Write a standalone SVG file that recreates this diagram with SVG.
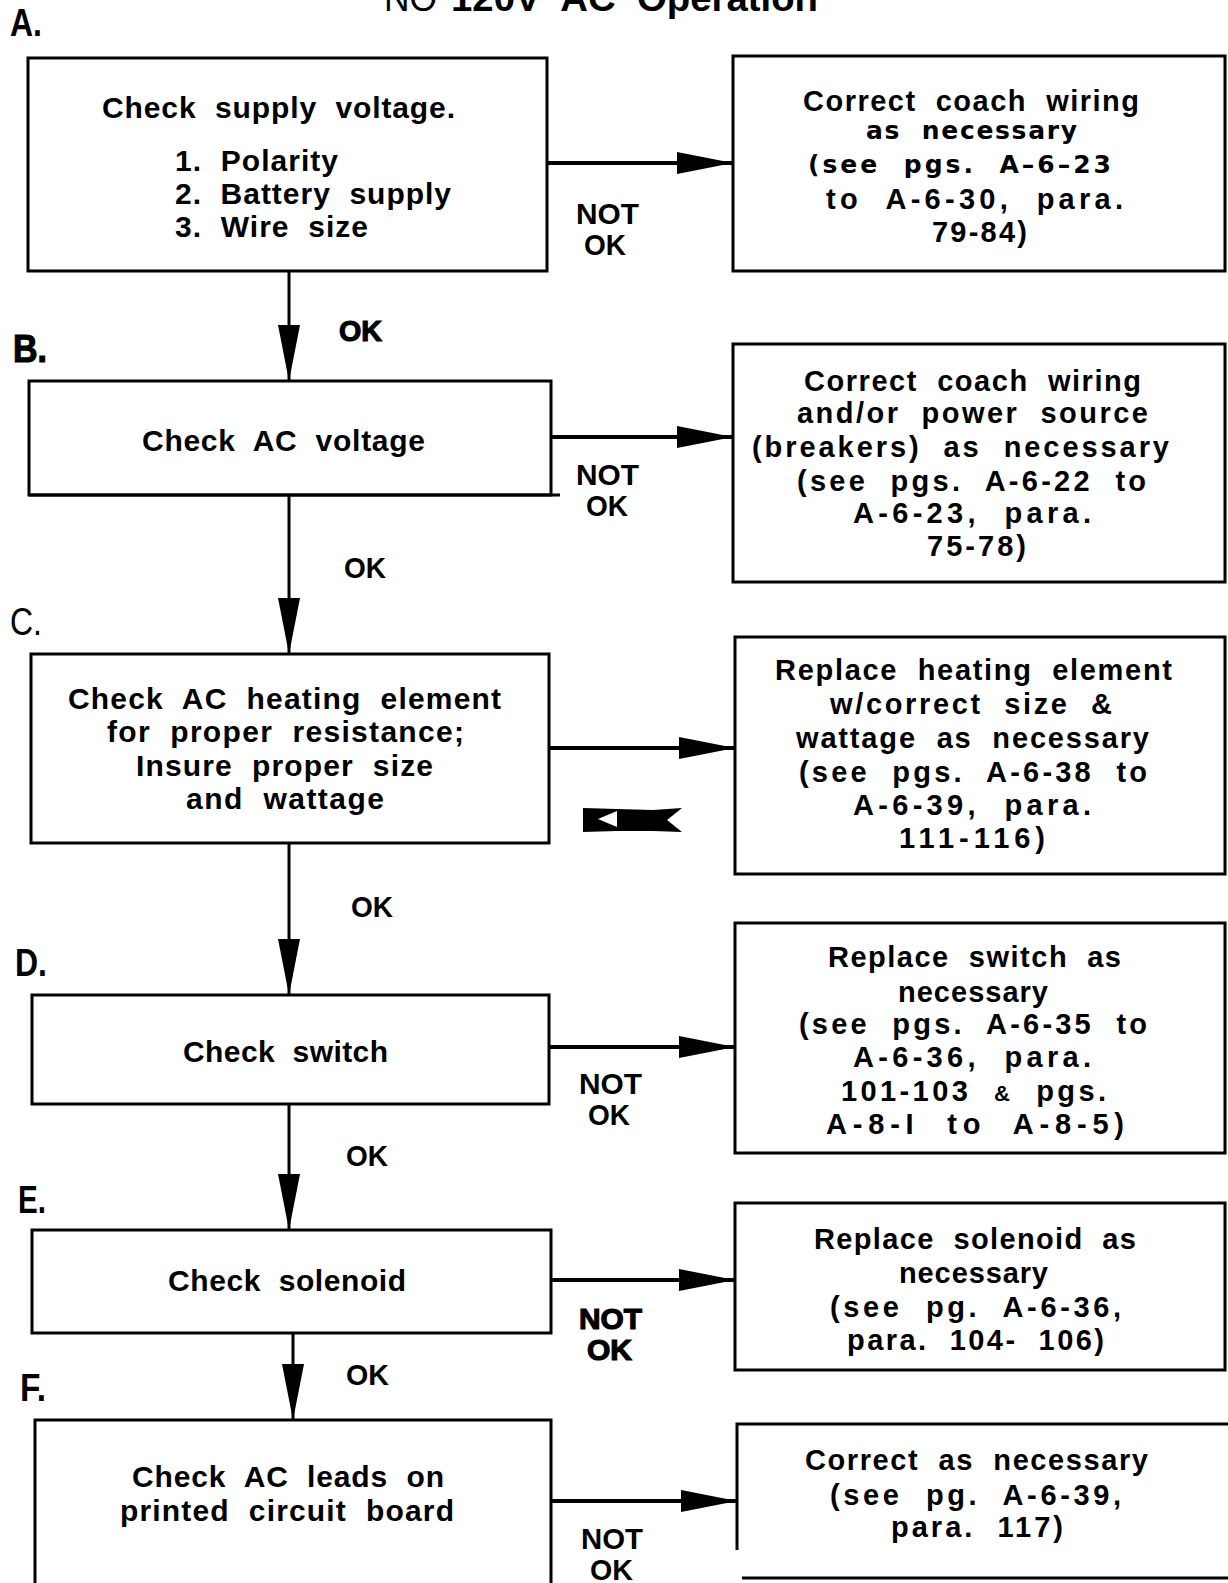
<svg xmlns="http://www.w3.org/2000/svg" width="1228" height="1583" viewBox="0 0 1228 1583" xml:space="preserve">
<style>
  .box{fill:#fff;stroke:#000;stroke-width:3}
  .edge{fill:none;stroke:#000;stroke-width:3}
  .hline{stroke:#000;stroke-width:4;fill:none}
  .vline{stroke:#000;stroke-width:3;fill:none}
  text{font-family:"Liberation Sans",Arial,sans-serif;font-weight:bold;fill:#000;white-space:pre}
  .t{font-size:30px}
  .r{font-size:29px}
  .g{font-family:"DejaVu Sans",sans-serif;font-weight:bold;font-size:25px}
  .lbl{font-size:30px}
  .sec{font-size:38px}
  .heavy{stroke:#000;stroke-width:1.2}
  .thin{font-weight:normal}
</style>
<defs>
  <marker id="ah" viewBox="0 0 56 22" refX="56" refY="11" markerWidth="56" markerHeight="22" markerUnits="userSpaceOnUse" orient="auto">
    <path d="M0,0 L56,11 L0,22 Z" fill="#000"/>
  </marker>
</defs>
<rect width="1228" height="1583" fill="#fff"/>

<g id="title">
  <text x="384" y="11" font-size="36" class="thin" textLength="53" lengthAdjust="spacingAndGlyphs">NO</text>
  <text x="451" y="11" font-size="36" textLength="367" lengthAdjust="spacingAndGlyphs">120V  AC  Operation</text>
</g>

<g id="section-labels">
  <text class="sec" x="10" y="36" textLength="32" lengthAdjust="spacingAndGlyphs">A.</text>
  <text class="sec heavy" x="13" y="362" textLength="34" lengthAdjust="spacingAndGlyphs">B.</text>
  <text class="sec thin" x="10" y="635" textLength="32" lengthAdjust="spacingAndGlyphs">C.</text>
  <text class="sec" x="15" y="976" textLength="32" lengthAdjust="spacingAndGlyphs">D.</text>
  <text class="sec" x="18" y="1213" textLength="28" lengthAdjust="spacingAndGlyphs">E.</text>
  <text class="sec" x="20" y="1401" textLength="26" lengthAdjust="spacingAndGlyphs">F.</text>
</g>

<g id="connectors">
  <line class="vline" x1="289" y1="271" x2="289" y2="381" marker-end="url(#ah)"/>
  <line class="vline" x1="289" y1="495" x2="289" y2="654" marker-end="url(#ah)"/>
  <line class="vline" x1="289" y1="843" x2="289" y2="995" marker-end="url(#ah)"/>
  <line class="vline" x1="289" y1="1104" x2="289" y2="1230" marker-end="url(#ah)"/>
  <line class="vline" x1="293" y1="1333" x2="293" y2="1420" marker-end="url(#ah)"/>
  <line class="hline" x1="547" y1="163" x2="733" y2="163" marker-end="url(#ah)"/>
  <line class="hline" x1="551" y1="437" x2="733" y2="437" marker-end="url(#ah)"/>
  <line class="hline" x1="549" y1="748" x2="735" y2="748" marker-end="url(#ah)"/>
  <line class="hline" x1="549" y1="1047" x2="735" y2="1047" marker-end="url(#ah)"/>
  <line class="hline" x1="551" y1="1280" x2="735" y2="1280" marker-end="url(#ah)"/>
  <line class="hline" x1="551" y1="1501" x2="737" y2="1501" marker-end="url(#ah)"/>
  <text class="lbl heavy" x="339" y="341" textLength="43" lengthAdjust="spacingAndGlyphs">OK</text>
  <text class="lbl" x="344" y="578" textLength="42" lengthAdjust="spacingAndGlyphs">OK</text>
  <text class="lbl" x="351" y="917" textLength="42" lengthAdjust="spacingAndGlyphs">OK</text>
  <text class="lbl" x="346" y="1166" textLength="42" lengthAdjust="spacingAndGlyphs">OK</text>
  <text class="lbl" x="346" y="1385" textLength="43" lengthAdjust="spacingAndGlyphs">OK</text>
  <text class="lbl" x="576" y="224" textLength="63" lengthAdjust="spacingAndGlyphs">NOT</text>
  <text class="lbl" x="584" y="255" textLength="42" lengthAdjust="spacingAndGlyphs">OK</text>
  <text class="lbl" x="576" y="485" textLength="63" lengthAdjust="spacingAndGlyphs">NOT</text>
  <text class="lbl" x="586" y="516" textLength="42" lengthAdjust="spacingAndGlyphs">OK</text>
  <polygon points="583,808 617,809 653,810 682,808 667,820 682,832 653,831 617,831 583,832" fill="#000"/>
  <polygon points="598,819 617,811 617,827" fill="#fff"/>
  <text class="lbl" x="579" y="1094" textLength="63" lengthAdjust="spacingAndGlyphs">NOT</text>
  <text class="lbl" x="588" y="1125" textLength="42" lengthAdjust="spacingAndGlyphs">OK</text>
  <text class="lbl heavy" x="579" y="1329" textLength="63" lengthAdjust="spacingAndGlyphs">NOT</text>
  <text class="lbl heavy" x="587" y="1360" textLength="45" lengthAdjust="spacingAndGlyphs">OK</text>
  <text class="lbl" x="581" y="1549" font-size="29" textLength="62" lengthAdjust="spacingAndGlyphs">NOT</text>
  <text class="lbl" x="590" y="1580" font-size="29" textLength="43" lengthAdjust="spacingAndGlyphs">OK</text>
</g>

<g id="nodeA">
  <rect class="box" x="28" y="58" width="519" height="213"/>
  <text class="t" x="102" y="118" textLength="353">Check  supply  voltage.</text>
  <text class="t" x="175" y="171" textLength="163">1.  Polarity</text>
  <text class="t" x="175" y="204" textLength="276">2.  Battery  supply</text>
  <text class="t" x="175" y="237" textLength="193">3.  Wire  size</text>
</g>
<g id="nodeA-fix">
  <rect class="box" x="733" y="56" width="492" height="215"/>
  <text class="r" x="803" y="111" textLength="336">Correct  coach  wiring</text>
  <text class="g" x="866" y="139" textLength="211">as  necessary</text>
  <text class="g" x="808" y="173" textLength="303">(see  pgs.  A–6–23</text>
  <text class="r" x="826" y="209" textLength="297">to  A-6-30,  para.</text>
  <text class="r" x="932" y="242" textLength="95">79-84)</text>
</g>

<g id="nodeB">
  <rect class="box" x="29" y="381" width="522" height="114"/>
  <line class="edge" x1="29" y1="495" x2="560" y2="495"/>
  <text class="t" x="142" y="451" textLength="283">Check  AC  voltage</text>
</g>
<g id="nodeB-fix">
  <rect class="box" x="733" y="344" width="492" height="238"/>
  <text class="r" x="804" y="391" textLength="337">Correct  coach  wiring</text>
  <text class="r" x="797" y="423" textLength="351">and/or  power  source</text>
  <text class="r" x="752" y="457" textLength="417">(breakers)  as  necessary</text>
  <text class="r" x="797" y="491" textLength="349">(see  pgs.  A-6-22  to</text>
  <text class="r" x="853" y="523" textLength="238">A-6-23,  para.</text>
  <text class="r" x="927" y="556" textLength="99">75-78)</text>
</g>

<g id="nodeC">
  <rect class="box" x="31" y="654" width="518" height="189"/>
  <text class="t" x="68" y="709" textLength="433">Check  AC  heating  element</text>
  <text class="t" x="107" y="742" textLength="357">for  proper  resistance;</text>
  <text class="t" x="136" y="776" textLength="297">Insure  proper  size</text>
  <text class="t" x="186" y="809" textLength="198">and  wattage</text>
</g>
<g id="nodeC-fix">
  <rect class="box" x="735" y="637" width="490" height="237"/>
  <text class="r" x="775" y="680" textLength="397">Replace  heating  element</text>
  <text class="r" x="830" y="714" textLength="282">w/correct  size  &amp;</text>
  <text class="r" x="796" y="748" textLength="353">wattage  as  necessary</text>
  <text class="r" x="799" y="782" textLength="348">(see  pgs.  A-6-38  to</text>
  <text class="r" x="853" y="815" textLength="238">A-6-39,  para.</text>
  <text class="r" x="899" y="848" textLength="146">111-116)</text>
</g>

<g id="nodeD">
  <rect class="box" x="32" y="995" width="517" height="109"/>
  <text class="t" x="183" y="1062" textLength="205">Check  switch</text>
</g>
<g id="nodeD-fix">
  <rect class="box" x="735" y="923" width="490" height="230"/>
  <text class="r" x="828" y="967" textLength="293">Replace  switch  as</text>
  <text class="r" x="898" y="1002" textLength="150">necessary</text>
  <text class="r" x="799" y="1034" textLength="348">(see  pgs.  A-6-35  to</text>
  <text class="r" x="853" y="1067" textLength="238">A-6-36,  para.</text>
  <text class="r" x="841" y="1101" textLength="265">101-103  <tspan font-size="22">&amp;</tspan>  pgs.</text>
  <text class="r" x="826" y="1134" textLength="298">A-8-I  to  A-8-5)</text>
</g>

<g id="nodeE">
  <rect class="box" x="32" y="1230" width="519" height="103"/>
  <text class="t" x="168" y="1291" textLength="238">Check  solenoid</text>
</g>
<g id="nodeE-fix">
  <rect class="box" x="735" y="1203" width="490" height="167"/>
  <text class="r" x="814" y="1249" textLength="322">Replace  solenoid  as</text>
  <text class="r" x="899" y="1283" textLength="149">necessary</text>
  <text class="r" x="830" y="1317" textLength="291">(see  pg.  A-6-36,</text>
  <text class="r" x="847" y="1350" textLength="257">para.  104-  106)</text>
</g>

<g id="nodeF">
  <path class="edge" d="M35,1583 V1420 H551 V1583"/>
  <text class="t" x="132" y="1487" textLength="312">Check  AC  leads  on</text>
  <text class="t" x="120" y="1521" textLength="334">printed  circuit  board</text>
</g>
<g id="nodeF-fix">
  <path class="edge" d="M737,1550 V1424 H1228 M742,1578 H1228"/>
  <text class="r" x="805" y="1470" textLength="343">Correct  as  necessary</text>
  <text class="r" x="830" y="1505" textLength="291">(see  pg.  A-6-39,</text>
  <text class="r" x="891" y="1537" textLength="172">para.  117)</text>
</g>
</svg>
